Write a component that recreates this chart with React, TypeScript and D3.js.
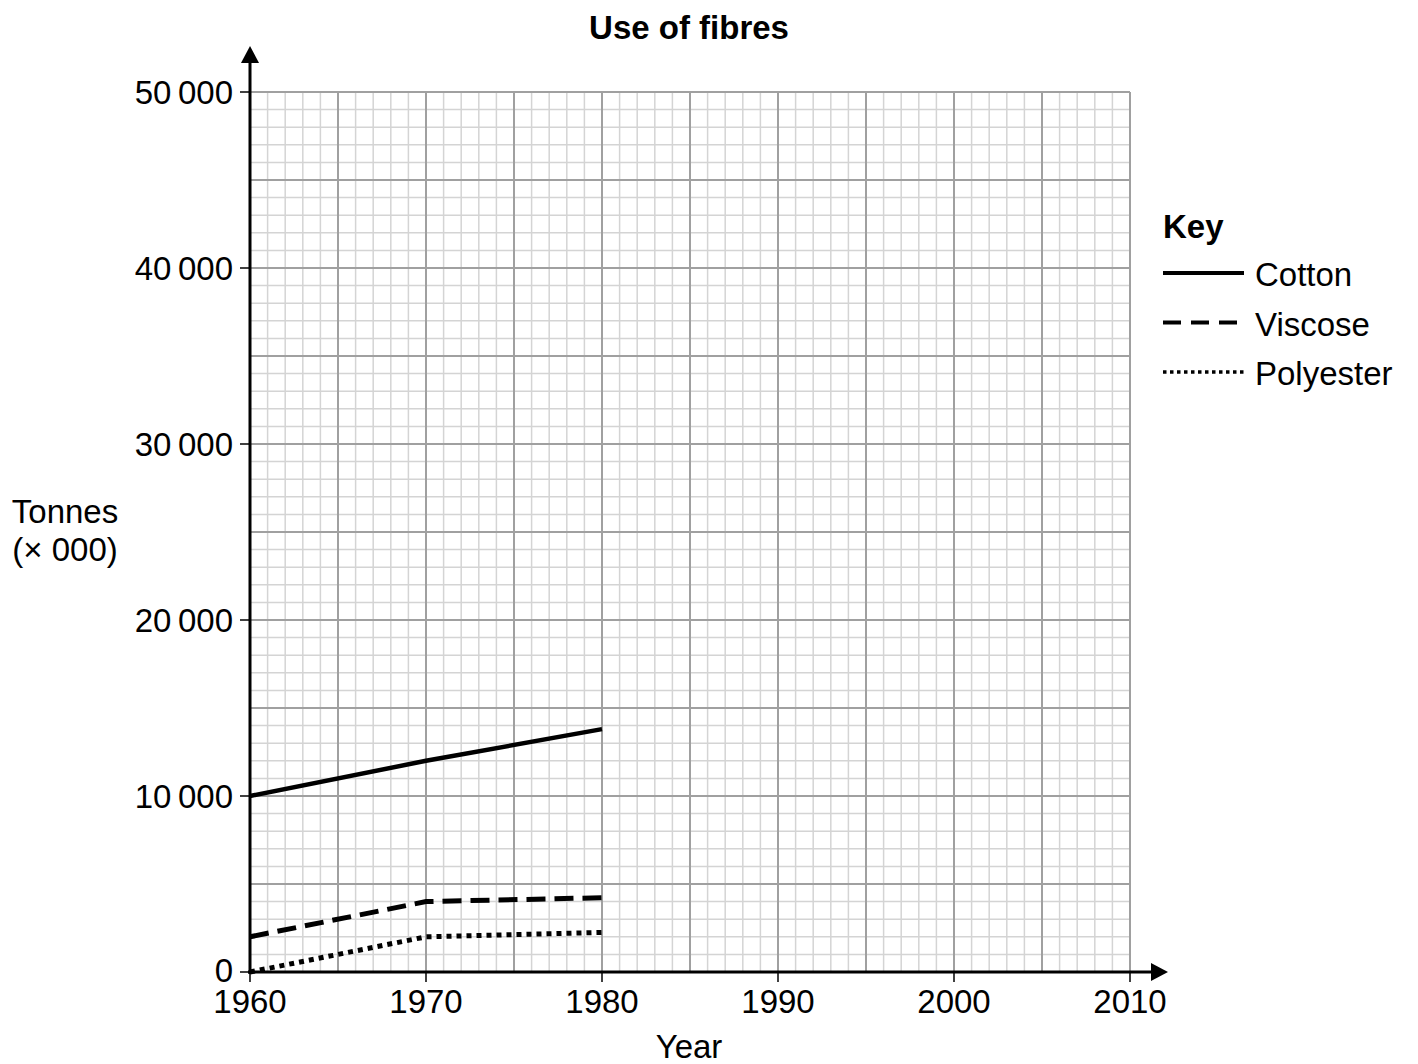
import * as d3 from 'd3'

const years = [1960, 1970, 1980]
const cotton = [10000, 12000, 13800]
const viscose = [2000, 4000, 4220]
const polyester = [0, 2000, 2250]

const seriesNames = ['Cotton', 'Viscose', 'Polyester']
const seriesDash = ['', '19,9', '5,5']
const keyDash = ['', '18,10', '3.5,3.5']
const xTicks = [1960, 1970, 1980, 1990, 2000, 2010]
const yTicks = [0, 10000, 20000, 30000, 40000, 50000]

const W = 1418
const H = 1064
const left = 250
const right = 1130
const top = 92
const bottom = 972
const font = 'Liberation Sans, Arial, sans-serif'

export default function App() {
  const x = d3.scaleLinear().domain([1960, 2010]).range([left, right])
  const y = d3.scaleLinear().domain([0, 50000]).range([bottom, top])

  const minorX = d3.range(1960, 2011, 1)
  const minorY = d3.range(0, 50001, 1000)

  const line = d3.line<[number, number]>().x(d => x(d[0])).y(d => y(d[1]))
  const allSeries = [cotton, viscose, polyester]
  // thin space as thousands separator, like the printed chart
  const fmt = (v: number) => (v >= 10000 ? `${Math.floor(v / 1000)}\u2009${String(v % 1000).padStart(3, '0')}` : String(v))

  return (
    <svg width={W} height={H} style={{ position: 'absolute', left: 0, top: 0, background: '#fff' }} fontFamily={font}>
      <text x={689} y={39} textAnchor="middle" fontSize={33} fontWeight="bold">Use of fibres</text>

      {/* grid */}
      <g>
        {minorX.filter(v => v % 5 !== 0).map(v => (
          <line key={'mx' + v} x1={x(v)} x2={x(v)} y1={top} y2={bottom} stroke="#d4d4d4" strokeWidth={1.5} />
        ))}
        {minorY.filter(v => v % 5000 !== 0).map(v => (
          <line key={'my' + v} x1={left} x2={right} y1={y(v)} y2={y(v)} stroke="#d4d4d4" strokeWidth={1.5} />
        ))}
        {minorX.filter(v => v % 5 === 0).map(v => (
          <line key={'Mx' + v} x1={x(v)} x2={x(v)} y1={top} y2={bottom} stroke="#a0a0a0" strokeWidth={2} />
        ))}
        {minorY.filter(v => v % 5000 === 0).map(v => (
          <line key={'My' + v} x1={left} x2={right} y1={y(v)} y2={y(v)} stroke="#a0a0a0" strokeWidth={2} />
        ))}
      </g>

      {/* axes */}
      <line x1={left} x2={left} y1={bottom + 2} y2={58} stroke="#000" strokeWidth={3} />
      <path d={`M${left - 9},${63} L${left},${46} L${left + 9},${63} Z`} fill="#000" />
      <line x1={left - 2} x2={1152} y1={bottom} y2={bottom} stroke="#000" strokeWidth={3} />
      <path d={`M${1151},${bottom - 9} L${1168},${bottom} L${1151},${bottom + 9} Z`} fill="#000" />

      {yTicks.map(v => (
        <g key={'yt' + v}>
          <line x1={left - 10} x2={left} y1={y(v)} y2={y(v)} stroke="#000" strokeWidth={1.5} />
          <text x={233} y={y(v) + (v === 0 ? 10 : 12)} textAnchor="end" fontSize={33}>{fmt(v)}</text>
        </g>
      ))}
      {xTicks.map(v => (
        <g key={'xt' + v}>
          <line x1={x(v)} x2={x(v)} y1={bottom} y2={bottom + 10} stroke="#000" strokeWidth={1.5} />
          <text x={x(v)} y={1013} textAnchor="middle" fontSize={33}>{v}</text>
        </g>
      ))}

      <text x={689} y={1058} textAnchor="middle" fontSize={33}>Year</text>
      <text x={65} y={523} textAnchor="middle" fontSize={33}>Tonnes</text>
      <text x={65} y={561} textAnchor="middle" fontSize={33}>(× 000)</text>

      {/* data */}
      {allSeries.map((s, i) => (
        <path
          key={seriesNames[i]}
          d={line(years.map((yr, j) => [yr, s[j]] as [number, number])) || ''}
          fill="none"
          stroke="#000"
          strokeWidth={i === 0 ? 4.5 : 5}
          strokeDasharray={seriesDash[i] || undefined}
        />
      ))}

      {/* key */}
      <text x={1163} y={238} fontSize={33} fontWeight="bold">Key</text>
      {seriesNames.map((n, i) => (
        <g key={'k' + n} transform={`translate(0,${273 + i * 49.5})`}>
          <line x1={1163} x2={1244} y1={0} y2={0} stroke="#000" strokeWidth={i === 2 ? 3.5 : 4} strokeDasharray={keyDash[i] || undefined} />
          <text x={1255} y={13} fontSize={33}>{n}</text>
        </g>
      ))}
    </svg>
  )
}
